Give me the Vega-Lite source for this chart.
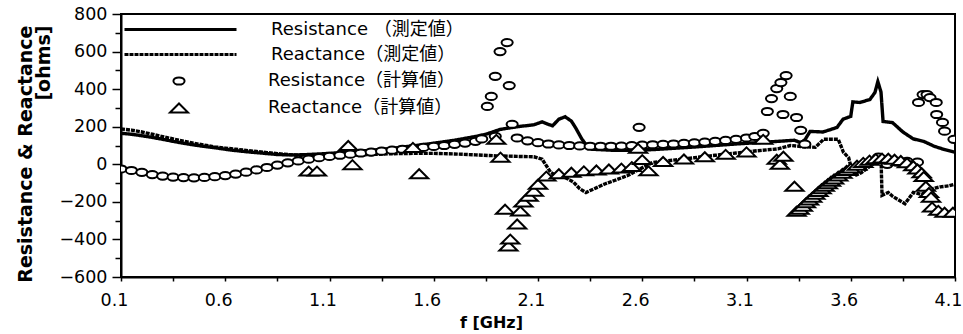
{
  "$schema": "https://vega.github.io/schema/vega-lite/v6.json",
  "width": 834,
  "height": 263,
  "autosize": {"type": "none"},
  "padding": {"left": 121, "top": 14, "right": 8, "bottom": 57},
  "background": "white",
  "title": {"text": "Zφ(計算値)　と　Zφ (測定値)", "anchor": "end", "orient": "top", "frame": "group", "fontSize": 18, "fontWeight": "normal", "font": "DejaVu Sans, Noto Sans CJK JP", "color": "black", "baseline": "alphabetic", "offset": 9, "dx": -12},
  "config": {
    "view": {"stroke": "black", "strokeWidth": 2},
    "axis": {"domainColor": "black", "domainWidth": 2, "tickColor": "black", "tickWidth": 1.5, "labelColor": "black", "labelFont": "DejaVu Sans", "labelFontSize": 17.5, "titleColor": "black", "titleFont": "DejaVu Sans", "grid": false},
    "legend": {"labelFont": "DejaVu Sans, Noto Sans CJK JP", "labelFontSize": 18, "labelColor": "black", "labelLimit": 400, "padding": 0}
  },
  "datasets": {
    "meas": [
      {"f": 0.10, "v": 165, "s": "Resistance （測定値）"}, {"f": 0.15, "v": 160, "s": "Resistance （測定値）"}, {"f": 0.20, "v": 152, "s": "Resistance （測定値）"}, {"f": 0.25, "v": 143, "s": "Resistance （測定値）"}, {"f": 0.30, "v": 133, "s": "Resistance （測定値）"}, {"f": 0.35, "v": 122, "s": "Resistance （測定値）"}, {"f": 0.40, "v": 112, "s": "Resistance （測定値）"}, {"f": 0.45, "v": 103, "s": "Resistance （測定値）"}, {"f": 0.50, "v": 95, "s": "Resistance （測定値）"}, {"f": 0.55, "v": 88, "s": "Resistance （測定値）"}, {"f": 0.60, "v": 80, "s": "Resistance （測定値）"}, {"f": 0.65, "v": 73, "s": "Resistance （測定値）"}, {"f": 0.70, "v": 67, "s": "Resistance （測定値）"}, {"f": 0.75, "v": 62, "s": "Resistance （測定値）"}, {"f": 0.80, "v": 57, "s": "Resistance （測定値）"}, {"f": 0.85, "v": 52, "s": "Resistance （測定値）"}, {"f": 0.90, "v": 50, "s": "Resistance （測定値）"}, {"f": 0.95, "v": 50, "s": "Resistance （測定値）"}, {"f": 1.00, "v": 52, "s": "Resistance （測定値）"}, {"f": 1.10, "v": 58, "s": "Resistance （測定値）"}, {"f": 1.20, "v": 66, "s": "Resistance （測定値）"}, {"f": 1.30, "v": 75, "s": "Resistance （測定値）"}, {"f": 1.40, "v": 85, "s": "Resistance （測定値）"}, {"f": 1.50, "v": 98, "s": "Resistance （測定値）"}, {"f": 1.60, "v": 112, "s": "Resistance （測定値）"}, {"f": 1.70, "v": 128, "s": "Resistance （測定値）"}, {"f": 1.80, "v": 148, "s": "Resistance （測定値）"}, {"f": 1.85, "v": 160, "s": "Resistance （測定値）"}, {"f": 1.92, "v": 186, "s": "Resistance （測定値）"}, {"f": 2.00, "v": 200, "s": "Resistance （測定値）"}, {"f": 2.08, "v": 210, "s": "Resistance （測定値）"}, {"f": 2.12, "v": 226, "s": "Resistance （測定値）"}, {"f": 2.15, "v": 212, "s": "Resistance （測定値）"}, {"f": 2.17, "v": 205, "s": "Resistance （測定値）"}, {"f": 2.20, "v": 240, "s": "Resistance （測定値）"}, {"f": 2.23, "v": 253, "s": "Resistance （測定値）"}, {"f": 2.26, "v": 230, "s": "Resistance （測定値）"}, {"f": 2.28, "v": 195, "s": "Resistance （測定値）"}, {"f": 2.31, "v": 135, "s": "Resistance （測定値）"}, {"f": 2.335, "v": 98, "s": "Resistance （測定値）"}, {"f": 2.36, "v": 80, "s": "Resistance （測定値）"}, {"f": 2.45, "v": 75, "s": "Resistance （測定値）"}, {"f": 2.55, "v": 75, "s": "Resistance （測定値）"}, {"f": 2.65, "v": 78, "s": "Resistance （測定値）"}, {"f": 2.75, "v": 85, "s": "Resistance （測定値）"}, {"f": 2.85, "v": 92, "s": "Resistance （測定値）"}, {"f": 2.95, "v": 100, "s": "Resistance （測定値）"}, {"f": 3.05, "v": 108, "s": "Resistance （測定値）"}, {"f": 3.15, "v": 115, "s": "Resistance （測定値）"}, {"f": 3.25, "v": 122, "s": "Resistance （測定値）"}, {"f": 3.33, "v": 128, "s": "Resistance （測定値）"}, {"f": 3.36, "v": 115, "s": "Resistance （測定値）"}, {"f": 3.38, "v": 130, "s": "Resistance （測定値）"}, {"f": 3.405, "v": 175, "s": "Resistance （測定値）"}, {"f": 3.467, "v": 172, "s": "Resistance （測定値）"}, {"f": 3.534, "v": 196, "s": "Resistance （測定値）"}, {"f": 3.563, "v": 240, "s": "Resistance （測定値）"}, {"f": 3.60, "v": 255, "s": "Resistance （測定値）"}, {"f": 3.61, "v": 332, "s": "Resistance （測定値）"}, {"f": 3.644, "v": 329, "s": "Resistance （測定値）"}, {"f": 3.692, "v": 345, "s": "Resistance （測定値）"}, {"f": 3.716, "v": 382, "s": "Resistance （測定値）"}, {"f": 3.73, "v": 440, "s": "Resistance （測定値）"}, {"f": 3.745, "v": 385, "s": "Resistance （測定値）"}, {"f": 3.755, "v": 228, "s": "Resistance （測定値）"}, {"f": 3.80, "v": 222, "s": "Resistance （測定値）"}, {"f": 3.85, "v": 172, "s": "Resistance （測定値）"}, {"f": 3.90, "v": 135, "s": "Resistance （測定値）"}, {"f": 3.95, "v": 122, "s": "Resistance （測定値）"}, {"f": 4.00, "v": 96, "s": "Resistance （測定値）"}, {"f": 4.05, "v": 78, "s": "Resistance （測定値）"}, {"f": 4.10, "v": 64, "s": "Resistance （測定値）"},
      {"f": 0.10, "v": 188, "s": "Reactance（測定値）"}, {"f": 0.15, "v": 182, "s": "Reactance（測定値）"}, {"f": 0.20, "v": 172, "s": "Reactance（測定値）"}, {"f": 0.25, "v": 160, "s": "Reactance（測定値）"}, {"f": 0.30, "v": 147, "s": "Reactance（測定値）"}, {"f": 0.35, "v": 135, "s": "Reactance（測定値）"}, {"f": 0.40, "v": 123, "s": "Reactance（測定値）"}, {"f": 0.45, "v": 112, "s": "Reactance（測定値）"}, {"f": 0.50, "v": 102, "s": "Reactance（測定値）"}, {"f": 0.55, "v": 93, "s": "Reactance（測定値）"}, {"f": 0.60, "v": 86, "s": "Reactance（測定値）"}, {"f": 0.65, "v": 80, "s": "Reactance（測定値）"}, {"f": 0.70, "v": 74, "s": "Reactance（測定値）"}, {"f": 0.75, "v": 68, "s": "Reactance（測定値）"}, {"f": 0.80, "v": 62, "s": "Reactance（測定値）"}, {"f": 0.85, "v": 57, "s": "Reactance（測定値）"}, {"f": 0.90, "v": 52, "s": "Reactance（測定値）"}, {"f": 0.95, "v": 48, "s": "Reactance（測定値）"}, {"f": 1.00, "v": 45, "s": "Reactance（測定値）"}, {"f": 1.10, "v": 45, "s": "Reactance（測定値）"}, {"f": 1.20, "v": 48, "s": "Reactance（測定値）"}, {"f": 1.30, "v": 52, "s": "Reactance（測定値）"}, {"f": 1.40, "v": 56, "s": "Reactance（測定値）"}, {"f": 1.50, "v": 58, "s": "Reactance（測定値）"}, {"f": 1.60, "v": 58, "s": "Reactance（測定値）"}, {"f": 1.70, "v": 55, "s": "Reactance（測定値）"}, {"f": 1.80, "v": 50, "s": "Reactance（測定値）"}, {"f": 1.90, "v": 45, "s": "Reactance（測定値）"}, {"f": 2.00, "v": 42, "s": "Reactance（測定値）"}, {"f": 2.08, "v": 40, "s": "Reactance（測定値）"}, {"f": 2.12, "v": 27, "s": "Reactance（測定値）"}, {"f": 2.16, "v": -42, "s": "Reactance（測定値）"}, {"f": 2.19, "v": -63, "s": "Reactance（測定値）"}, {"f": 2.23, "v": -70, "s": "Reactance（測定値）"}, {"f": 2.27, "v": -95, "s": "Reactance（測定値）"}, {"f": 2.30, "v": -130, "s": "Reactance（測定値）"}, {"f": 2.33, "v": -150, "s": "Reactance（測定値）"}, {"f": 2.37, "v": -130, "s": "Reactance（測定値）"}, {"f": 2.42, "v": -105, "s": "Reactance（測定値）"}, {"f": 2.47, "v": -85, "s": "Reactance（測定値）"}, {"f": 2.53, "v": -60, "s": "Reactance（測定値）"}, {"f": 2.58, "v": -30, "s": "Reactance（測定値）"}, {"f": 2.65, "v": 10, "s": "Reactance（測定値）"}, {"f": 2.75, "v": 22, "s": "Reactance（測定値）"}, {"f": 2.85, "v": 35, "s": "Reactance（測定値）"}, {"f": 2.95, "v": 48, "s": "Reactance（測定値）"}, {"f": 3.05, "v": 60, "s": "Reactance（測定値）"}, {"f": 3.15, "v": 72, "s": "Reactance（測定値）"}, {"f": 3.25, "v": 82, "s": "Reactance（測定値）"}, {"f": 3.31, "v": 100, "s": "Reactance（測定値）"}, {"f": 3.36, "v": 95, "s": "Reactance（測定値）"}, {"f": 3.43, "v": 90, "s": "Reactance（測定値）"}, {"f": 3.47, "v": 133, "s": "Reactance（測定値）"}, {"f": 3.54, "v": 133, "s": "Reactance（測定値）"}, {"f": 3.565, "v": 64, "s": "Reactance（測定値）"}, {"f": 3.59, "v": 35, "s": "Reactance（測定値）"}, {"f": 3.60, "v": -10, "s": "Reactance（測定値）"}, {"f": 3.62, "v": -60, "s": "Reactance（測定値）"}, {"f": 3.65, "v": -45, "s": "Reactance（測定値）"}, {"f": 3.68, "v": -20, "s": "Reactance（測定値）"}, {"f": 3.71, "v": 5, "s": "Reactance（測定値）"}, {"f": 3.735, "v": 30, "s": "Reactance（測定値）"}, {"f": 3.745, "v": 40, "s": "Reactance（測定値）"}, {"f": 3.75, "v": -165, "s": "Reactance（測定値）"}, {"f": 3.78, "v": -150, "s": "Reactance（測定値）"}, {"f": 3.80, "v": -170, "s": "Reactance（測定値）"}, {"f": 3.83, "v": -190, "s": "Reactance（測定値）"}, {"f": 3.86, "v": -210, "s": "Reactance（測定値）"}, {"f": 3.90, "v": -150, "s": "Reactance（測定値）"}, {"f": 3.94, "v": -160, "s": "Reactance（測定値）"}, {"f": 3.98, "v": -133, "s": "Reactance（測定値）"}, {"f": 4.03, "v": -120, "s": "Reactance（測定値）"}, {"f": 4.07, "v": -115, "s": "Reactance（測定値）"}, {"f": 4.10, "v": -106, "s": "Reactance（測定値）"}
    ],
    "calc": [
      {"f": 0.10, "v": -25, "s": "Resistance（計算値）"}, {"f": 0.15, "v": -33, "s": "Resistance（計算値）"}, {"f": 0.20, "v": -43, "s": "Resistance（計算値）"}, {"f": 0.25, "v": -55, "s": "Resistance（計算値）"}, {"f": 0.30, "v": -63, "s": "Resistance（計算値）"}, {"f": 0.35, "v": -68, "s": "Resistance（計算値）"}, {"f": 0.40, "v": -71, "s": "Resistance（計算値）"}, {"f": 0.45, "v": -72, "s": "Resistance（計算値）"}, {"f": 0.50, "v": -70, "s": "Resistance（計算値）"}, {"f": 0.55, "v": -66, "s": "Resistance（計算値）"}, {"f": 0.60, "v": -60, "s": "Resistance（計算値）"}, {"f": 0.65, "v": -52, "s": "Resistance（計算値）"}, {"f": 0.70, "v": -42, "s": "Resistance（計算値）"}, {"f": 0.75, "v": -30, "s": "Resistance（計算値）"}, {"f": 0.80, "v": -17, "s": "Resistance（計算値）"}, {"f": 0.85, "v": -4, "s": "Resistance（計算値）"}, {"f": 0.90, "v": 8, "s": "Resistance（計算値）"}, {"f": 0.95, "v": 18, "s": "Resistance（計算値）"}, {"f": 1.00, "v": 27, "s": "Resistance（計算値）"}, {"f": 1.05, "v": 35, "s": "Resistance（計算値）"}, {"f": 1.10, "v": 42, "s": "Resistance（計算値）"}, {"f": 1.15, "v": 48, "s": "Resistance（計算値）"}, {"f": 1.20, "v": 54, "s": "Resistance（計算値）"}, {"f": 1.25, "v": 60, "s": "Resistance（計算値）"}, {"f": 1.30, "v": 65, "s": "Resistance（計算値）"}, {"f": 1.35, "v": 70, "s": "Resistance（計算値）"}, {"f": 1.40, "v": 75, "s": "Resistance（計算値）"}, {"f": 1.45, "v": 80, "s": "Resistance（計算値）"}, {"f": 1.50, "v": 85, "s": "Resistance（計算値）"}, {"f": 1.55, "v": 90, "s": "Resistance（計算値）"}, {"f": 1.60, "v": 95, "s": "Resistance（計算値）"}, {"f": 1.65, "v": 100, "s": "Resistance（計算値）"}, {"f": 1.70, "v": 106, "s": "Resistance（計算値）"}, {"f": 1.75, "v": 113, "s": "Resistance（計算値）"}, {"f": 1.80, "v": 122, "s": "Resistance（計算値）"}, {"f": 1.83, "v": 135, "s": "Resistance（計算値）"}, {"f": 1.857, "v": 308, "s": "Resistance（計算値）"}, {"f": 1.876, "v": 361, "s": "Resistance（計算値）"}, {"f": 1.895, "v": 468, "s": "Resistance（計算値）"}, {"f": 1.895, "v": 149, "s": "Resistance（計算値）"}, {"f": 1.918, "v": 600, "s": "Resistance（計算値）"}, {"f": 1.952, "v": 648, "s": "Resistance（計算値）"}, {"f": 1.962, "v": 419, "s": "Resistance（計算値）"}, {"f": 1.976, "v": 213, "s": "Resistance（計算値）"}, {"f": 2.00, "v": 140, "s": "Resistance（計算値）"}, {"f": 2.05, "v": 125, "s": "Resistance（計算値）"}, {"f": 2.10, "v": 115, "s": "Resistance（計算値）"}, {"f": 2.15, "v": 108, "s": "Resistance（計算値）"}, {"f": 2.20, "v": 103, "s": "Resistance（計算値）"}, {"f": 2.25, "v": 100, "s": "Resistance（計算値）"}, {"f": 2.30, "v": 98, "s": "Resistance（計算値）"}, {"f": 2.35, "v": 96, "s": "Resistance（計算値）"}, {"f": 2.40, "v": 96, "s": "Resistance（計算値）"}, {"f": 2.45, "v": 96, "s": "Resistance（計算値）"}, {"f": 2.50, "v": 97, "s": "Resistance（計算値）"}, {"f": 2.55, "v": 99, "s": "Resistance（計算値）"}, {"f": 2.585, "v": 197, "s": "Resistance（計算値）"}, {"f": 2.60, "v": 102, "s": "Resistance（計算値）"}, {"f": 2.65, "v": 104, "s": "Resistance（計算値）"}, {"f": 2.70, "v": 106, "s": "Resistance（計算値）"}, {"f": 2.75, "v": 108, "s": "Resistance（計算値）"}, {"f": 2.80, "v": 111, "s": "Resistance（計算値）"}, {"f": 2.85, "v": 114, "s": "Resistance（計算値）"}, {"f": 2.90, "v": 118, "s": "Resistance（計算値）"}, {"f": 2.95, "v": 122, "s": "Resistance（計算値）"}, {"f": 3.00, "v": 127, "s": "Resistance（計算値）"}, {"f": 3.05, "v": 133, "s": "Resistance（計算値）"}, {"f": 3.10, "v": 140, "s": "Resistance（計算値）"}, {"f": 3.14, "v": 148, "s": "Resistance（計算値）"}, {"f": 3.18, "v": 165, "s": "Resistance（計算値）"}, {"f": 3.20, "v": 281, "s": "Resistance（計算値）"}, {"f": 3.22, "v": 350, "s": "Resistance（計算値）"}, {"f": 3.245, "v": 403, "s": "Resistance（計算値）"}, {"f": 3.265, "v": 435, "s": "Resistance（計算値）"}, {"f": 3.275, "v": 265, "s": "Resistance（計算値）"}, {"f": 3.29, "v": 472, "s": "Resistance（計算値）"}, {"f": 3.31, "v": 361, "s": "Resistance（計算値）"}, {"f": 3.34, "v": 249, "s": "Resistance（計算値）"}, {"f": 3.36, "v": 181, "s": "Resistance（計算値）"}, {"f": 3.38, "v": 107, "s": "Resistance（計算値）"}, {"f": 3.733, "v": 38, "s": "Resistance（計算値）"}, {"f": 3.775, "v": 0, "s": "Resistance（計算値）"}, {"f": 3.82, "v": 12, "s": "Resistance（計算値）"}, {"f": 3.87, "v": 16, "s": "Resistance（計算値）"}, {"f": 3.92, "v": 11, "s": "Resistance（計算値）"}, {"f": 3.925, "v": 329, "s": "Resistance（計算値）"}, {"f": 3.947, "v": 371, "s": "Resistance（計算値）"}, {"f": 3.966, "v": 371, "s": "Resistance（計算値）"}, {"f": 3.98, "v": 355, "s": "Resistance（計算値）"}, {"f": 4.01, "v": 329, "s": "Resistance（計算値）"}, {"f": 4.012, "v": 265, "s": "Resistance（計算値）"}, {"f": 4.04, "v": 223, "s": "Resistance（計算値）"}, {"f": 4.05, "v": 176, "s": "Resistance（計算値）"}, {"f": 4.095, "v": 133, "s": "Resistance（計算値）"},
      {"f": 1.00, "v": -36, "s": "Reactance（計算値）"}, {"f": 1.04, "v": -36, "s": "Reactance（計算値）"}, {"f": 1.19, "v": 100, "s": "Reactance（計算値）"}, {"f": 1.21, "v": -2, "s": "Reactance（計算値）"}, {"f": 1.50, "v": 90, "s": "Reactance（計算値）"}, {"f": 1.53, "v": -50, "s": "Reactance（計算値）"}, {"f": 1.90, "v": 133, "s": "Reactance（計算値）"}, {"f": 1.92, "v": 38, "s": "Reactance（計算値）"}, {"f": 1.942, "v": -239, "s": "Reactance（計算値）"}, {"f": 1.958, "v": -435, "s": "Reactance（計算値）"}, {"f": 1.967, "v": -398, "s": "Reactance（計算値）"}, {"f": 2.00, "v": -318, "s": "Reactance（計算値）"}, {"f": 2.015, "v": -249, "s": "Reactance（計算値）"}, {"f": 2.03, "v": -201, "s": "Reactance（計算値）"}, {"f": 2.055, "v": -170, "s": "Reactance（計算値）"}, {"f": 2.08, "v": -143, "s": "Reactance（計算値）"}, {"f": 2.10, "v": -106, "s": "Reactance（計算値）"}, {"f": 2.14, "v": -63, "s": "Reactance（計算値）"}, {"f": 2.20, "v": -50, "s": "Reactance（計算値）"}, {"f": 2.26, "v": -42, "s": "Reactance（計算値）"}, {"f": 2.32, "v": -35, "s": "Reactance（計算値）"}, {"f": 2.38, "v": -30, "s": "Reactance（計算値）"}, {"f": 2.44, "v": -25, "s": "Reactance（計算値）"}, {"f": 2.50, "v": -20, "s": "Reactance（計算値）"}, {"f": 2.55, "v": -12, "s": "Reactance（計算値）"}, {"f": 2.58, "v": 85, "s": "Reactance（計算値）"}, {"f": 2.60, "v": 25, "s": "Reactance（計算値）"}, {"f": 2.63, "v": -35, "s": "Reactance（計算値）"}, {"f": 2.70, "v": 15, "s": "Reactance（計算値）"}, {"f": 2.80, "v": 28, "s": "Reactance（計算値）"}, {"f": 2.90, "v": 40, "s": "Reactance（計算値）"}, {"f": 3.00, "v": 53, "s": "Reactance（計算値）"}, {"f": 3.10, "v": 66, "s": "Reactance（計算値）"}, {"f": 3.18, "v": 133, "s": "Reactance（計算値）"}, {"f": 3.245, "v": 27, "s": "Reactance（計算値）"}, {"f": 3.26, "v": 0, "s": "Reactance（計算値）"}, {"f": 3.277, "v": 43, "s": "Reactance（計算値）"}, {"f": 3.33, "v": -117, "s": "Reactance（計算値）"}, {"f": 3.34, "v": -250, "s": "Reactance（計算値）"}, {"f": 3.355, "v": -240, "s": "Reactance（計算値）"}, {"f": 3.37, "v": -223, "s": "Reactance（計算値）"}, {"f": 3.385, "v": -205, "s": "Reactance（計算値）"}, {"f": 3.40, "v": -190, "s": "Reactance（計算値）"}, {"f": 3.415, "v": -175, "s": "Reactance（計算値）"}, {"f": 3.43, "v": -160, "s": "Reactance（計算値）"}, {"f": 3.445, "v": -145, "s": "Reactance（計算値）"}, {"f": 3.46, "v": -130, "s": "Reactance（計算値）"}, {"f": 3.475, "v": -117, "s": "Reactance（計算値）"}, {"f": 3.49, "v": -103, "s": "Reactance（計算値）"}, {"f": 3.505, "v": -90, "s": "Reactance（計算値）"}, {"f": 3.52, "v": -78, "s": "Reactance（計算値）"}, {"f": 3.54, "v": -63, "s": "Reactance（計算値）"}, {"f": 3.56, "v": -48, "s": "Reactance（計算値）"}, {"f": 3.58, "v": -33, "s": "Reactance（計算値）"}, {"f": 3.60, "v": -20, "s": "Reactance（計算値）"}, {"f": 3.63, "v": -5, "s": "Reactance（計算値）"}, {"f": 3.66, "v": 10, "s": "Reactance（計算値）"}, {"f": 3.69, "v": 22, "s": "Reactance（計算値）"}, {"f": 3.72, "v": 30, "s": "Reactance（計算値）"}, {"f": 3.75, "v": 33, "s": "Reactance（計算値）"}, {"f": 3.78, "v": 32, "s": "Reactance（計算値）"}, {"f": 3.81, "v": 27, "s": "Reactance（計算値）"}, {"f": 3.84, "v": 20, "s": "Reactance（計算値）"}, {"f": 3.87, "v": 8, "s": "Reactance（計算値）"}, {"f": 3.90, "v": -8, "s": "Reactance（計算値）"}, {"f": 3.92, "v": -25, "s": "Reactance（計算値）"}, {"f": 3.94, "v": -45, "s": "Reactance（計算値）"}, {"f": 3.95, "v": -65, "s": "Reactance（計算値）"}, {"f": 3.96, "v": -117, "s": "Reactance（計算値）"}, {"f": 3.975, "v": -150, "s": "Reactance（計算値）"}, {"f": 3.985, "v": -175, "s": "Reactance（計算値）"}, {"f": 3.99, "v": -228, "s": "Reactance（計算値）"}, {"f": 4.02, "v": -245, "s": "Reactance（計算値）"}, {"f": 4.05, "v": -255, "s": "Reactance（計算値）"}, {"f": 4.09, "v": -255, "s": "Reactance（計算値）"}
    ]
  },
  "resolve": {"axis": {"x": "independent", "y": "independent"}},
  "layer": [
    {
      "data": {"name": "meas"},
      "mark": {"type": "line", "color": "black", "strokeWidth": 3.4, "clip": true},
      "encoding": {
        "x": {"field": "f", "type": "quantitative", "scale": {"domain": [0.1, 4.1], "nice": false, "zero": false},
          "axis": {"orient": "bottom", "values": [0.1, 0.6, 1.1, 1.6, 2.1, 2.6, 3.1, 3.6, 4.1], "format": ".1f", "tickSize": 4, "labelPadding": 10, "labelOffset": -7, "labelFlush": false, "labelOverlap": false, "title": "f [GHz]", "titleFontSize": 16, "titleFontWeight": "bold", "titleX": 370, "titleY": 45, "titleBaseline": "middle", "titleAlign": "center"}},
        "y": {"field": "v", "type": "quantitative", "scale": {"domain": [-600, 800], "nice": false, "zero": false},
          "axis": {"orient": "left", "values": [-600, -400, -200, 0, 200, 400, 600, 800], "tickSize": 9, "labelPadding": 5, "title": ["Resistance & Reactance", "[ohms]"], "titleFontSize": 19, "titleFontWeight": "bold", "titleAngle": -90, "titleAlign": "right", "titleBaseline": "alphabetic", "titleX": -90, "titleY": 11, "titleLineHeight": 18}},
        "strokeDash": {"field": "s", "type": "nominal",
          "scale": {"domain": ["Resistance （測定値）", "Reactance（測定値）"], "range": [[1, 0], [4, 1]]},
          "legend": {"title": null, "orient": "none", "legendX": 48, "legendY": 4, "symbolType": "M-5.6,0L5.6,0", "symbolSize": 400, "symbolStrokeWidth": 3, "symbolStrokeColor": "black", "labelOffset": 79, "rowPadding": 4}}
      }
    },
    {
      "data": {"name": "calc"},
      "mark": {"type": "point", "filled": false, "fill": "white", "stroke": "black", "strokeWidth": 2, "size": 324, "opacity": 1, "clip": true},
      "encoding": {
        "x": {"field": "f", "type": "quantitative",
          "axis": {"orient": "bottom", "values": [0.35, 0.85, 1.35, 1.85, 2.35, 2.85, 3.35, 3.85], "labels": false, "tickSize": 4, "domain": false, "title": null}},
        "y": {"field": "v", "type": "quantitative",
          "axis": {"orient": "left", "values": [-500, -300, -100, 100, 300, 500, 700], "labels": false, "tickSize": 6, "domain": false, "title": null}},
        "shape": {"field": "s", "type": "nominal",
          "scale": {"domain": ["Resistance（計算値）", "Reactance（計算値）"], "range": ["M-0.62,0A0.62,0.4 0 1,1 0.62,0A0.62,0.4 0 1,1 -0.62,0Z", "M-1,0.5L1,0.5L0,-0.5Z"]},
          "legend": {"title": null, "orient": "none", "legendX": 48, "legendY": 57, "symbolSize": 324, "symbolStrokeWidth": 2, "labelOffset": 79, "rowPadding": 8}}
      }
    }
  ]
}
